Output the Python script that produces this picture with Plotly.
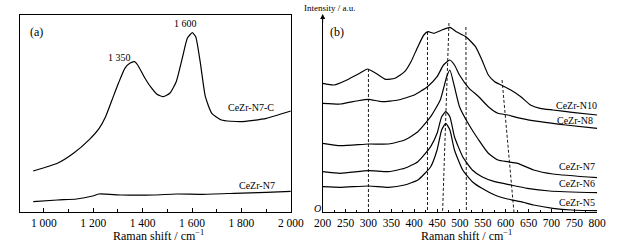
import plotly.graph_objects as go

W, H = 631, 245

# ---------------- Panel (a) data ----------------
a_x_n7c = [957, 1055, 1120, 1185, 1224, 1250, 1276, 1302, 1328, 1348, 1367, 1380, 1406, 1432,
           1458, 1484, 1510, 1536, 1562, 1581, 1601, 1615, 1634, 1654, 1680, 1719, 1797, 1901, 2000]
a_y_n7c = [41, 48.7, 58.7, 72.7, 83.7, 95.3, 112, 128.7, 143.7, 148.7, 150.3, 147, 135.3, 125.3,
           117.7, 115.3, 118.7, 130.3, 155.3, 173.7, 179.3, 175.3, 148.7, 115.3, 98.7, 92, 90.3, 93.7, 101]
a_x_n7 = [957, 1055, 1133, 1198, 1224, 1315, 1445, 1536, 1640, 1771, 1901, 2000]
a_y_n7 = [10.3, 12, 13, 16, 18, 17, 17, 18, 17.7, 18.7, 19.7, 20.7]

a_tickvals = [1000, 1200, 1400, 1600, 1800, 2000]
a_ticktext = ["1 000", "1 200", "1 400", "1 600", "1 800", "2 000"]

# ---------------- Panel (b) data ----------------
b_x_n10 = [200, 225, 253, 281, 298, 316, 337, 358, 379, 393, 408, 421, 430, 443, 457, 478, 492,
           513, 534, 548, 562, 576, 590, 611, 633, 654, 675, 703, 745, 800]
b_y_n10 = [128.7, 127, 132, 138.7, 143, 138.7, 132.7, 133.7, 140.3, 150.3, 165.3, 177, 180.3, 178.7,
           181.3, 184.7, 180.3, 175.3, 165.3, 152, 137, 130.3, 127, 122, 115.3, 107, 103.7, 102, 99.7, 97]
b_x_n8 = [200, 239, 274, 300, 330, 365, 400, 429, 450, 464, 478, 488, 499, 520, 541, 562, 583,
          604, 633, 675, 731, 800]
b_y_n8 = [108.7, 108, 111, 112.7, 110.3, 112, 117, 125.3, 135.3, 147, 152, 147, 137, 123.7, 115.3,
          105.3, 98.7, 97, 93.7, 90.3, 87, 83.7]
b_x_n7 = [200, 239, 300, 344, 379, 408, 436, 457, 471, 478, 488, 499, 520, 541, 562, 583, 604,
          626, 661, 703, 800]
b_y_n7 = [68.7, 66.3, 68, 68, 72, 80.3, 95.3, 112, 135.3, 142, 125.3, 105.3, 87, 72, 58.7, 52,
          50.3, 48.7, 42, 38, 34.3]
b_x_n6 = [200, 239, 300, 344, 379, 408, 436, 450, 460, 469, 478, 488, 506, 527, 548, 576, 604,
          647, 696, 800]
b_y_n6 = [40.3, 38.7, 41.3, 40.3, 43.7, 50.3, 65.3, 78.7, 95.3, 100.3, 95.3, 75.3, 55.3, 42, 35.3,
          30.3, 27.7, 23.7, 21, 19.3]
b_x_n5 = [200, 239, 300, 344, 379, 408, 436, 450, 460, 469, 478, 488, 506, 527, 548, 576, 604,
          633, 661, 703, 745, 800]
b_y_n5 = [25.3, 24.7, 26, 24.7, 27, 32, 45.3, 62, 82, 88.7, 82, 62, 42, 30.3, 23.7, 17, 13, 10.3,
          7, 3.7, 2, 1.3]

# dashed guide lines (x at top, x at bottom, top intensity)
guide_x_top = [300, 429, 476, 513, 592]
guide_x_bot = [300, 429, 462, 514, 618]
guide_y_top = [143, 180, 189, 185, 132]

b_tickvals = [200, 250, 300, 350, 400, 450, 500, 550, 600, 650, 700, 750, 800]
b_ticktext = [str(v) for v in b_tickvals]

FONT = "Liberation Serif"
LINE = dict(color="black", width=1.2)

fig = go.Figure()

fig.add_trace(go.Scatter(x=a_x_n7c, y=a_y_n7c, mode="lines", line=dict(**LINE, shape="spline", smoothing=0.5),
                         xaxis="x", yaxis="y", showlegend=False, hoverinfo="skip"))
fig.add_trace(go.Scatter(x=a_x_n7, y=a_y_n7, mode="lines", line=dict(**LINE, shape="spline", smoothing=0.5),
                         xaxis="x", yaxis="y", showlegend=False, hoverinfo="skip"))

for xs, ys in [(b_x_n10, b_y_n10), (b_x_n8, b_y_n8), (b_x_n7, b_y_n7), (b_x_n6, b_y_n6), (b_x_n5, b_y_n5)]:
    fig.add_trace(go.Scatter(x=xs, y=ys, mode="lines", line=dict(**LINE, shape="spline", smoothing=0.5),
                             xaxis="x2", yaxis="y2", showlegend=False, hoverinfo="skip"))

for xt, xb, yt in zip(guide_x_top, guide_x_bot, guide_y_top):
    fig.add_trace(go.Scatter(x=[xt, xb], y=[yt, 0], mode="lines",
                             line=dict(color="black", width=0.9, dash="3px,2px"),
                             xaxis="x2", yaxis="y2", showlegend=False, hoverinfo="skip"))

def px(x):
    return x / W

def py(y):
    return 1 - y / H

y_dom = [py(212), py(15)]
tickfont = dict(family=FONT, size=11.5, color="black")

fig.update_layout(
    width=W, height=H,
    margin=dict(l=0, r=0, t=0, b=0),
    paper_bgcolor="white", plot_bgcolor="white",
    font=dict(family=FONT, color="black"),
    xaxis=dict(domain=[px(11), px(292)], range=[902, 2000], showline=True, linecolor="black",
               linewidth=1, mirror=True, showgrid=False, zeroline=False,
               tickvals=a_tickvals, ticktext=a_ticktext, ticks="inside", ticklen=4,
               tickcolor="black", tickfont=tickfont,
               minor=dict(dtick=100, tick0=1000, ticks="inside", ticklen=3, tickcolor="black", showgrid=False)),
    yaxis=dict(domain=y_dom, range=[0, 197], showline=True, linecolor="black", linewidth=1,
               mirror=True, showgrid=False, zeroline=False, showticklabels=False, ticks=""),
    xaxis2=dict(domain=[px(325), px(609.5)], range=[200, 800], anchor="y2", showline=True,
                linecolor="black", linewidth=1, showgrid=False, zeroline=False,
                tickvals=b_tickvals, ticktext=b_ticktext, ticks="inside", ticklen=3,
                tickcolor="black", tickfont=tickfont,
                minor=dict(dtick=25, tick0=200, ticks="inside", ticklen=2, tickcolor="black", showgrid=False)),
    yaxis2=dict(domain=y_dom, range=[0, 197], anchor="x2", showline=True, linecolor="black",
                linewidth=1, showgrid=False, zeroline=False, showticklabels=False, ticks=""),
)

ann = []
def text(x, y, s, size=10, italic=False):
    ann.append(dict(x=px(x), y=py(y), xref="paper", yref="paper", text=s, showarrow=False,
                    xanchor="center", yanchor="middle",
                    font=dict(family=FONT, size=size, color="black",
                              style="italic" if italic else "normal")))

text(28.5, 32, "(a)", 12)
text(114, 57, "1 350", 10)
text(182.5, 24, "1 600", 10)
text(251, 107, "CeZr-N7-C", 10)
text(257, 185, "CeZr-N7", 10)
text(155, 235, "Raman shift / cm<sup>−1</sup>", 12)

text(340, 32, "(b)", 12)
text(333, 8, "Intensity / a.u.", 9)
text(587.5, 105, "CeZr-N10", 10)
text(586, 121, "CeZr-N8", 10)
text(589, 166, "CeZr-N7", 10)
text(589, 183, "CeZr-N6", 10)
text(589, 202, "CeZr-N5", 10)
text(320, 208, "O", 10, italic=True)
text(474, 235, "Raman shift / cm<sup>−1</sup>", 12)

# axis arrow on panel (b)
ann.append(dict(x=px(325), y=py(14), xref="paper", yref="paper", ax=0, ay=10,
                axref="pixel", ayref="pixel", showarrow=True, arrowhead=2, arrowsize=1,
                arrowwidth=1, arrowcolor="black", text=""))

fig.update_layout(annotations=ann)

fig.write_html("out.html", config={"displayModeBar": False},
               post_script="document.body.style.margin='0px';document.body.style.padding='0px';")
